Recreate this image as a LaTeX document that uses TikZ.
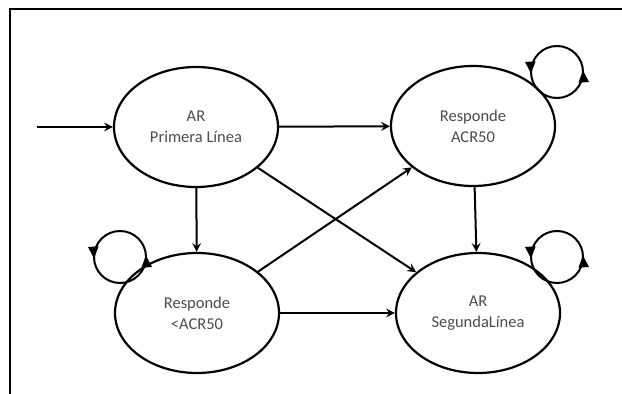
\documentclass[tikz,border=0pt]{standalone}
\usepackage{fontspec}
\setmainfont{Carlito}
\usetikzlibrary{shapes.geometric,arrows.meta,decorations.markings}
\tikzset{
  state/.style={draw,ellipse,line width=2.2pt,minimum width=164pt,minimum height=120pt,
    inner sep=0pt,align=center,text=black!70,font=\fontsize{16.5}{21}\selectfont},
  trans/.style={line width=2pt,-{Stealth[length=9pt,width=9pt,inset=3.5pt]}},
  selfloop/.style={line width=2pt,postaction={decorate},
    decoration={markings,
      mark=at position 0.01 with {\arrow{Triangle[length=12pt,width=10pt]}},
      mark=at position 0.51 with {\arrow{Triangle[length=12pt,width=10pt]}}}}
}
\begin{document}
\begin{tikzpicture}[x=1pt,y=1pt]
    \useasboundingbox (0,0) rectangle (622,394);
    % Frame
    \draw[line width=2.6pt] (10,0) -- (10,385) -- (622,385);

    % States
    \node[state] (primera) at (196,267) {AR\\Primera Línea};
    \node[state] (acr) at (473,268) {Responde\\ACR50};
    \node[state] (menos) at (197,81) {Responde\\<ACR50};
    \node[state] (segunda) at (478,81) {AR\\SegundaLínea};

    % Self loops
    \coordinate (acrloop) at (557,322);
    \coordinate (menosloop) at (120,137);
    \coordinate (segundaloop) at (557,137);
    \draw[selfloop] (acrloop) circle (26pt);
    \draw[selfloop] (menosloop) circle (26pt);
    \draw[selfloop] (segundaloop) circle (26pt);

    % Transitions
    \coordinate (start) at (37,267);
    \draw[trans] (start) -- (primera);
    \draw[trans] (primera) -- (acr);
    \draw[trans] (primera) -- (menos);
    \draw[trans] (primera) -- (segunda);
    \draw[trans] (menos) -- (acr);
    \draw[trans] (acr) -- (segunda);
    \draw[trans] (menos) -- (segunda);
\end{tikzpicture}
\end{document}
